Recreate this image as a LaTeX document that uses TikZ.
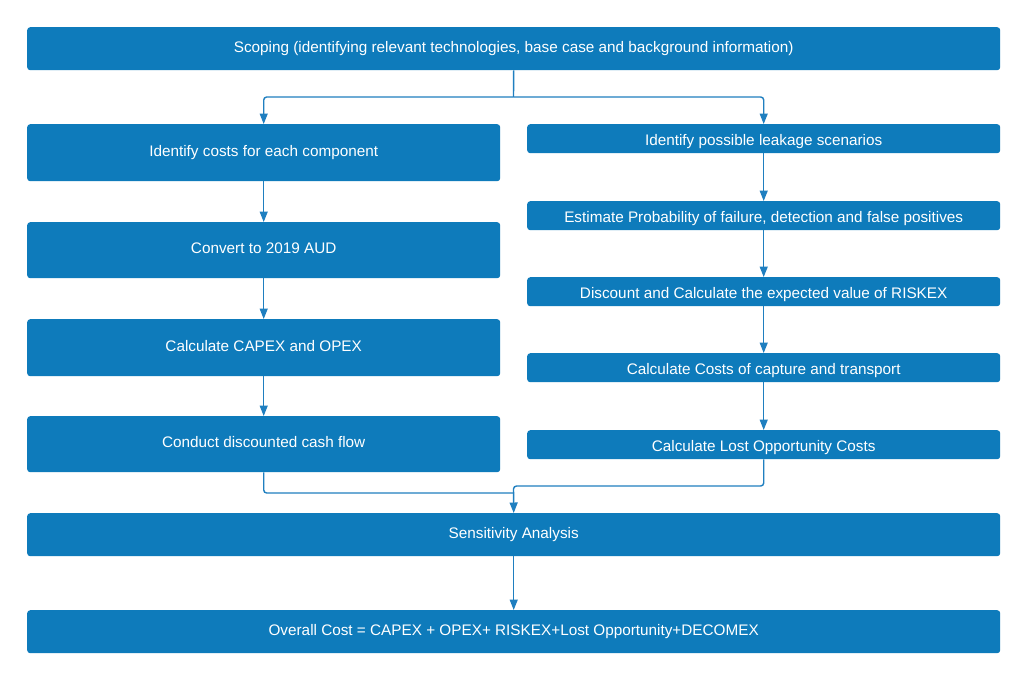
\documentclass[tikz,border=0pt]{standalone}
\usepackage{fontspec}
\setmainfont{Liberation Sans}
\usetikzlibrary{arrows.meta}
\definecolor{boxblue}{HTML}{0E7BBB}
\definecolor{lineblue}{HTML}{1F7FC0}
\begin{document}
\begin{tikzpicture}[x=1pt,y=-1pt,
  box/.style={draw=none,fill=boxblue,rounded corners=3pt,text=white,
    font=\fontsize{15.3}{17}\selectfont,inner sep=0pt,anchor=north west,
    text height=11pt,text depth=4.2pt},
  thinbox/.style={box,text height=14pt,text depth=1.4pt},
  conn/.style={draw=lineblue,line width=1.4pt,rounded corners=3pt},
  arr/.style={conn,-{Triangle[length=10.5pt,width=8pt]}}]
\useasboundingbox[fill=white] (0,0) rectangle (1028,681);
% boxes
\node[box,minimum width=973pt,minimum height=43pt] (scope) at (27,27) {Scoping (identifying relevant technologies, base case and background information)};
\node[box,minimum width=473pt,minimum height=57pt] (l1) at (27,124) {Identify costs for each component};
\node[box,minimum width=473pt,minimum height=56pt] (l2) at (27,222) {Convert to 2019 AUD};
\node[box,minimum width=473pt,minimum height=57pt] (l3) at (27,319) {Calculate CAPEX and OPEX};
\node[box,minimum width=473pt,minimum height=56pt] (l4) at (27,416) {Conduct discounted cash flow};
\node[thinbox,minimum width=473pt,minimum height=29pt] (r1) at (527,124) {Identify possible leakage scenarios};
\node[thinbox,minimum width=473pt,minimum height=29pt] (r2) at (527,201) {Estimate Probability of failure, detection and false positives};
\node[thinbox,minimum width=473pt,minimum height=29pt] (r3) at (527,277) {Discount and Calculate the expected value of RISKEX};
\node[thinbox,minimum width=473pt,minimum height=29pt] (r4) at (527,353) {Calculate Costs of capture and transport};
\node[thinbox,minimum width=473pt,minimum height=29pt] (r5) at (527,430) {Calculate Lost Opportunity Costs};
\node[box,minimum width=973pt,minimum height=43pt] (sens) at (27,513) {Sensitivity Analysis};
\node[box,minimum width=973pt,minimum height=43pt] (overall) at (27,610) {Overall Cost = CAPEX + OPEX+ RISKEX+Lost Opportunity+DECOMEX};
% junction points
\coordinate (split) at (513.5,97);
\coordinate (mergeL) at (513.5,493);
\coordinate (mergeR) at (513.5,486);
% connectors
\draw[conn] (scope.south) -- (split);
\draw[arr] (split) -| (l1.north);
\draw[arr] (split) -| (r1.north);
\draw[arr] (l1) -- (l2);
\draw[arr] (l2) -- (l3);
\draw[arr] (l3) -- (l4);
\draw[arr] (r1) -- (r2);
\draw[arr] (r2) -- (r3);
\draw[arr] (r3) -- (r4);
\draw[arr] (r4) -- (r5);
\draw[conn] (l4.south) |- (mergeL);
\draw[arr] (r5.south) |- (mergeR) -- (sens.north);
\draw[arr] (sens) -- (overall);
\end{tikzpicture}
\end{document}
